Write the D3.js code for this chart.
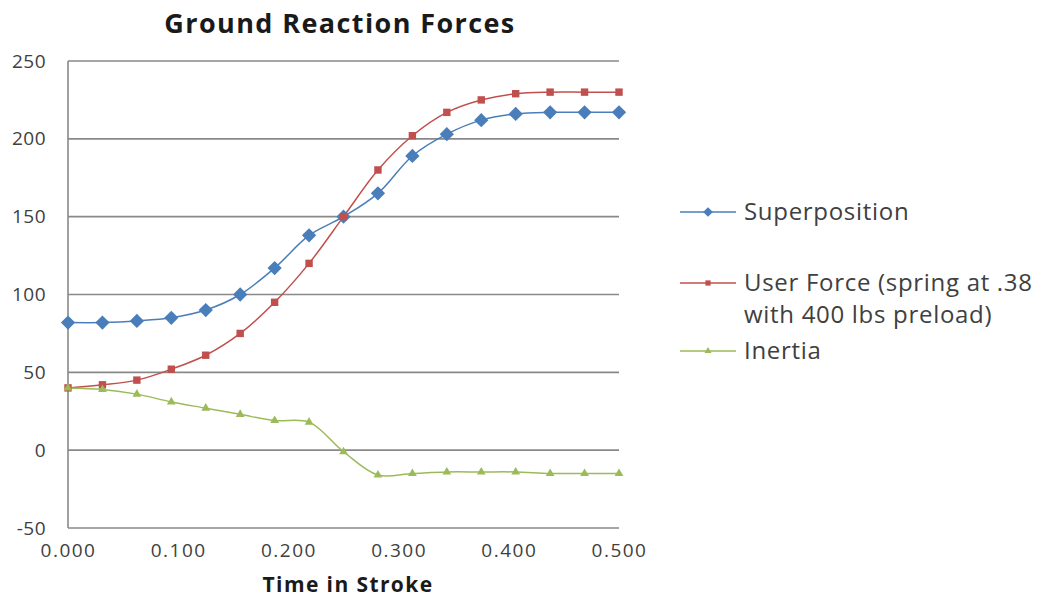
<!DOCTYPE html>
<html>
<head>
<meta charset="utf-8">
<script src="https://cdn.jsdelivr.net/npm/d3@7"></script>
<style>
  html, body { margin: 0; padding: 0; background: #fff; }
  svg { display: block; }
  text { font-family: "Open Sans", "Liberation Sans", sans-serif; }
</style>
</head>
<body>
<svg id="chart" width="1040" height="597"></svg>
<script>
// Time samples through the stroke (seconds)
const times = [0.000, 0.03125, 0.0625, 0.09375, 0.125, 0.15625, 0.1875, 0.21875,
               0.25, 0.28125, 0.3125, 0.34375, 0.375, 0.40625, 0.4375, 0.46875, 0.5];

// Force series (lbs)
const superposition = [82, 82, 83, 85, 90, 100, 117, 138, 150, 165, 189, 203, 212, 216, 217, 217, 217];
const userForce     = [40, 42, 45, 52, 61, 75, 95, 120, 150, 180, 202, 217, 225, 229, 230, 230, 230];
const inertia       = [40, 39, 36, 31, 27, 23, 19, 18, -1, -16, -15, -14, -14, -14, -15, -15, -15];

const seriesNames = ["Superposition", "User Force (spring at .38|with 400 lbs preload)", "Inertia"];
const xTicks = [0, 0.1, 0.2, 0.3, 0.4, 0.5];
const yTicks = [-50, 0, 50, 100, 150, 200, 250];

const svg = d3.select("#chart");

const x = d3.scaleLinear().domain([0, 0.5]).range([68, 619]);
const y = d3.scaleLinear().domain([-50, 250]).range([528, 61]);

// Horizontal gridlines
svg.append("g")
  .selectAll("line")
  .data(yTicks)
  .join("line")
  .attr("x1", x(0)).attr("x2", x(0.5))
  .attr("y1", d => y(d)).attr("y2", d => y(d))
  .attr("stroke", "#898989").attr("stroke-width", 1.6);

// Left axis line
svg.append("line")
  .attr("x1", x(0)).attr("x2", x(0))
  .attr("y1", y(250)).attr("y2", y(-50))
  .attr("stroke", "#898989").attr("stroke-width", 1.6);

// Y axis labels
const yAxis = d3.axisLeft(y).tickValues(yTicks).tickSize(0).tickPadding(22).tickFormat(d => String(d));
const gy = svg.append("g").attr("transform", `translate(${x(0)},0)`).call(yAxis);
gy.select(".domain").remove();
gy.selectAll("text").attr("font-size", 19).attr("fill", "#404040")
  .attr("letter-spacing", 0.5)
  .style("font-family", '"Open Sans", sans-serif');

// X axis labels
const xAxis = d3.axisBottom(x).tickValues(xTicks).tickSize(0).tickPadding(16).tickFormat(d3.format(".3f"));
const gx = svg.append("g").attr("transform", `translate(0,${y(-50)})`).call(xAxis);
gx.select(".domain").remove();
gx.selectAll("text").attr("font-size", 19).attr("fill", "#404040")
  .attr("letter-spacing", 1.5)
  .style("font-family", '"Open Sans", sans-serif');

const colors = ["#4a7ebb", "#c0504d", "#9bbb59"];
const allSeries = [superposition, userForce, inertia];

const line = d3.line()
  .x((d, i) => x(times[i]))
  .y(d => y(d))
  .curve(d3.curveCatmullRom.alpha(0.5));

const symbols = [
  d3.symbol().type(d3.symbolDiamond2).size(130),
  d3.symbol().type(d3.symbolSquare2).size(70),
  d3.symbol().type(d3.symbolTriangle2).size(55)
];

allSeries.forEach((vals, s) => {
  svg.append("path")
    .datum(vals)
    .attr("d", line)
    .attr("fill", "none")
    .attr("stroke", colors[s])
    .attr("stroke-width", 1.5);
});

allSeries.forEach((vals, s) => {
  svg.append("g")
    .selectAll("path")
    .data(vals)
    .join("path")
    .attr("transform", (d, i) => `translate(${x(times[i])},${y(d)})`)
    .attr("d", symbols[s])
    .attr("fill", colors[s])
    .attr("stroke", "none");
});

// Legend
const legendY = [212, 283, 351];
const legend = svg.append("g");
seriesNames.forEach((name, s) => {
  const g = legend.append("g").attr("transform", `translate(0,${legendY[s]})`);
  g.append("line").attr("x1", 680).attr("x2", 736).attr("y1", 0).attr("y2", 0)
    .attr("stroke", colors[s]).attr("stroke-width", 1.5);
  g.append("path").attr("transform", "translate(708,0)")
    .attr("d", d3.symbol().type([d3.symbolDiamond2, d3.symbolSquare2, d3.symbolTriangle2][s]).size(s === 0 ? 60 : 35))
    .attr("fill", colors[s]);
  const t = g.append("text").attr("x", 744).attr("y", 0)
    .attr("font-size", 24).attr("letter-spacing", 0.7).attr("fill", "#404040");
  name.split("|").forEach((part, k) => {
    t.append("tspan").attr("x", 744).attr("dy", k === 0 ? "0.35em" : "1.3em").text(part);
  });
});

// Title
svg.append("text")
  .attr("x", 340).attr("y", 33)
  .attr("text-anchor", "middle")
  .attr("font-size", 27).attr("font-weight", "bold").attr("letter-spacing", 1.4).attr("fill", "#1a1a1a")
  .text("Ground Reaction Forces");

// X axis title
svg.append("text")
  .attr("x", 348).attr("y", 592)
  .attr("text-anchor", "middle")
  .attr("font-size", 21).attr("font-weight", "bold").attr("letter-spacing", 1.4).attr("fill", "#1a1a1a")
  .text("Time in Stroke");
</script>
</body>
</html>
